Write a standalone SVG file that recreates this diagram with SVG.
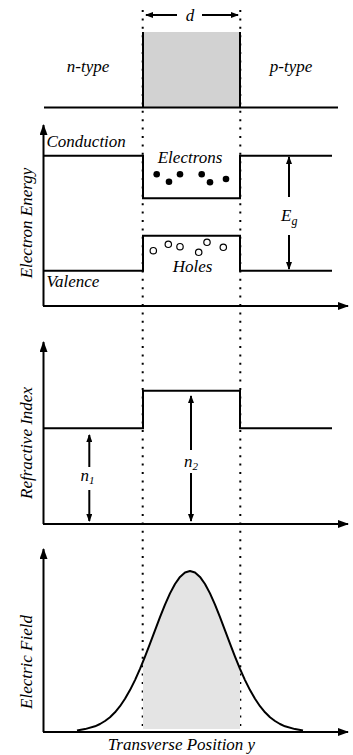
<svg xmlns="http://www.w3.org/2000/svg" width="353" height="755" viewBox="0 0 353 755">
<style>
text{font-family:"Liberation Serif","DejaVu Serif",serif;font-style:italic;font-size:17px;fill:#000}
.ln{fill:none;stroke:#000;stroke-width:2}
.dot{fill:none;stroke:#000;stroke-width:2;stroke-dasharray:2 6.4}
.ax{fill:none;stroke:#000;stroke-width:2;marker-end:url(#big)}
.ar{fill:none;stroke:#000;stroke-width:2;marker-end:url(#sm)}
.mid{text-anchor:middle}
</style>
<defs>
<marker id="big" markerUnits="userSpaceOnUse" markerWidth="11" markerHeight="8" refX="10" refY="4" orient="auto"><path d="M0,0 L11,4 L0,8 z" fill="#000"/></marker>
<marker id="sm" markerUnits="userSpaceOnUse" markerWidth="8" markerHeight="6" refX="7" refY="3" orient="auto"><path d="M0,0 L8,3 L0,6 z" fill="#000"/></marker>
</defs>
<g id="top-panel">
<rect x="143" y="32" width="97" height="75.5" fill="#d2d2d2"/>
<path class="ln" d="M143,32 V107.5 M240,32 V107.5 M44,107.5 H338"/>
<text x="88" y="72" class="mid" font-family="Liberation Serif, serif">n-type</text>
<text x="291" y="72" class="mid" font-family="Liberation Serif, serif">p-type</text>
</g>
<g id="d-dimension">
<path class="ar" d="M177,15 H146"/>
<path class="ar" d="M202,15 H238"/>
<text x="190" y="21" class="mid">d</text>
</g>
<g id="guides">
<path class="dot" d="M142.7,10 V730 M240.3,10 V730"/>
</g>
<g id="energy-panel">
<path class="ax" d="M43.5,306 V125"/>
<path class="ax" d="M43,306 H348"/>
<path class="ln" d="M43,155.7 H143 V198.3 H240 V155.7 H332"/>
<path class="ln" d="M43,270.7 H143 V235.7 H240 V270.7 H332"/>
<text x="46.5" y="147">Conduction</text>
<text x="46.5" y="287">Valence</text>
<text x="190" y="163" class="mid">Electrons</text>
<text x="192.5" y="272" class="mid">Holes</text>
<g fill="#000">
<circle cx="156.7" cy="174.3" r="3.3"/><circle cx="169" cy="181.7" r="3.3"/><circle cx="180" cy="174.3" r="3.3"/>
<circle cx="201.7" cy="174.3" r="3.3"/><circle cx="210" cy="182.3" r="3.3"/><circle cx="226" cy="179" r="3.3"/>
</g>
<g fill="#fff" stroke="#000" stroke-width="1.2">
<circle cx="153.3" cy="250.7" r="3.2"/><circle cx="168.3" cy="244.3" r="3.2"/><circle cx="180" cy="246.7" r="3.2"/>
<circle cx="198.7" cy="252.3" r="3.2"/><circle cx="207" cy="242.3" r="3.2"/><circle cx="223.3" cy="247.3" r="3.2"/>
</g>
<path class="ar" d="M289,197 V157"/>
<path class="ar" d="M289,235 V269"/>
<text x="281" y="221">E<tspan font-size="12" dy="4">g</tspan></text>
<text class="mid" transform="translate(32,223) rotate(-90)">Electron Energy</text>
</g>
<g id="index-panel">
<path class="ax" d="M43.5,524 V342"/>
<path class="ax" d="M43,524 H348"/>
<path class="ln" d="M43,428.3 H143 V390.7 H240 V428.3 H332"/>
<path class="ar" d="M89.3,467 V435"/>
<path class="ar" d="M89.3,490 V521"/>
<path class="ar" d="M191,450 V396"/>
<path class="ar" d="M191,473 V521"/>
<text x="80.5" y="481">n<tspan font-size="11" dy="3">1</tspan></text>
<text x="184" y="466.5">n<tspan font-size="11" dy="3">2</tspan></text>
<text class="mid" transform="translate(32,443) rotate(-90)">Refractive Index</text>
</g>
<g id="field-panel">
<path fill="#e4e4e4" d="M143,661.6 L145,656.6 L150,643.6 L155,630.3 L160,617.1 L165,604.6 L170,593.4 L175,584 L180,576.9 L185,572.5 L190,571 L195,572.5 L200,576.9 L205,584 L210,593.4 L215,604.6 L220,617.1 L225,630.3 L230,643.6 L235,656.6 L240,668.9 V729 H143 z"/>
<path class="ax" d="M43.5,732 V549"/>
<path class="ax" d="M43,732 H348"/>
<polyline class="ln" stroke-linejoin="round" points="77,730.4 85,729.1 95,726.3 100,724 105,721 110,717.2 115,712.3 120,706.2 125,698.8 130,690.1 135,680.1 140,668.9 145,656.6 150,643.6 155,630.3 160,617.1 165,604.6 170,593.4 175,584 180,576.9 185,572.5 190,571 195,572.5 200,576.9 205,584 210,593.4 215,604.6 220,617.1 225,630.3 230,643.6 235,656.6 240,668.9 245,680.1 250,690.1 255,698.8 260,706.2 265,712.3 270,717.2 275,721 280,724 285,726.3 295,729.1 303,730.4"/>
<text class="mid" transform="translate(32,662) rotate(-90)">Electric Field</text>
<text x="181.5" y="750" class="mid">Transverse Position y</text>
</g>
</svg>
